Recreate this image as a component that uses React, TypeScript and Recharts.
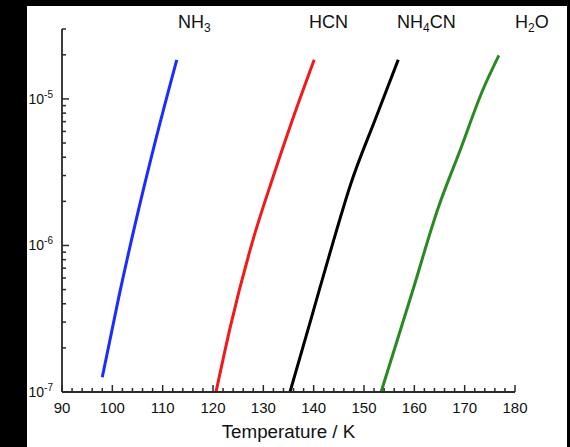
import React from 'react';
import { LineChart, Line, XAxis, YAxis } from 'recharts';

// Series data (temperature in K, vapour pressure)
const nh3T = [98.0, 101.25, 104.8, 108.65, 112.8];
const nh3P = [1.26e-7, 4.39e-7, 1.53e-6, 5.32e-6, 1.85e-5];

const hcnT = [120.6, 123.5, 127.8, 132.0, 135.8, 140.1];
const hcnP = [1.0e-7, 2.84e-7, 1.05e-6, 2.98e-6, 7.24e-6, 1.85e-5];

const nh4cnT = [135.3, 139.6, 143.4, 147.4, 152.4, 156.8];
const nh4cnP = [1.0e-7, 3.26e-7, 9.3e-7, 2.65e-6, 7.5e-6, 1.85e-5];

const h2oT = [153.4, 159.5, 164.8, 169.1, 173.6, 176.8];
const h2oP = [1.0e-7, 4.7e-7, 1.83e-6, 4.47e-6, 1.15e-5, 1.98e-5];

const xTicks = [
  90, 92, 94, 96, 98, 100, 102, 104, 106, 108, 110, 112, 114, 116, 118, 120,
  122, 124, 126, 128, 130, 132, 134, 136, 138, 140, 142, 144, 146, 148, 150,
  152, 154, 156, 158, 160, 162, 164, 166, 168, 170, 172, 174, 176, 178, 180,
];
const yTicks = [
  1e-7, 2e-7, 3e-7, 4e-7, 5e-7, 6e-7, 7e-7, 8e-7, 9e-7,
  1e-6, 2e-6, 3e-6, 4e-6, 5e-6, 6e-6, 7e-6, 8e-6, 9e-6,
  1e-5, 2e-5, 3e-5,
];

const toSeries = (t: number[], p: number[]) => t.map((v, i) => ({ t: v, p: p[i] }));

const FONT = '"Liberation Sans", Arial, sans-serif';
const AXIS = '#2a2a2a';

const XTick = (props: any) => {
  const { x, y, payload } = props;
  const v = payload.value as number;
  const major = v % 10 === 0;
  return (
    <g>
      <line x1={x} x2={x} y1={y} y2={y - (major ? 7 : 4)} stroke={AXIS} strokeWidth={1.5} />
      {major && (
        <text x={x} y={y + 21} textAnchor="middle" fontSize={15} fontFamily={FONT} fill="#111">
          {v}
        </text>
      )}
    </g>
  );
};

const YTick = (props: any) => {
  const { x, y, payload } = props;
  const v = payload.value as number;
  const exp = Math.round(Math.log10(v));
  const major = Math.abs(v - Math.pow(10, exp)) / v < 1e-6;
  return (
    <g>
      <line x1={x} x2={x + (major ? 7 : 4)} y1={y} y2={y} stroke={AXIS} strokeWidth={1.5} />
      {major && (
        <text x={x - 9} y={y + 5} textAnchor="end" fontSize={14} fontFamily={FONT} fill="#111">
          10
          <tspan dy={-6} fontSize={10}>
            {String(exp)}
          </tspan>
        </text>
      )}
    </g>
  );
};

const labelStyle = { fontSize: 18, fontFamily: FONT, fill: '#111' } as const;

export default function App() {
  return (
    <div style={{ position: 'fixed', left: 0, top: 0, width: 570, height: 447, background: '#000' }}>
      <div style={{ position: 'absolute', left: 27, top: 6, width: 540, height: 441, background: '#fff' }} />
      <div style={{ position: 'absolute', left: 0, top: 0 }}>
        <LineChart width={570} height={447} margin={{ top: 29, right: 55, bottom: 0, left: 0 }}>
          <XAxis
            type="number"
            dataKey="t"
            domain={[90, 180]}
            ticks={xTicks}
            interval={0}
            allowDataOverflow
            height={55}
            tickSize={0}
            tickMargin={0}
            tickLine={false}
            tick={<XTick />}
            axisLine={{ stroke: AXIS, strokeWidth: 1.8 }}
            label={{
              value: 'Temperature / K',
              position: 'insideBottom',
              offset: 9,
              style: { fontSize: 18.8, fontFamily: FONT, fill: '#111' },
            }}
          />
          <YAxis
            type="number"
            dataKey="p"
            scale="log"
            domain={[1e-7, 3e-5]}
            ticks={yTicks}
            interval={0}
            allowDataOverflow
            width={62}
            tickSize={0}
            tickMargin={0}
            tickLine={false}
            tick={<YTick />}
            axisLine={{ stroke: AXIS, strokeWidth: 1.8 }}
          />
          <Line data={toSeries(nh3T, nh3P)} dataKey="p" stroke="#1a2cff" strokeWidth={3} dot={false} type="monotone" isAnimationActive={false} />
          <Line data={toSeries(hcnT, hcnP)} dataKey="p" stroke="#f01a1a" strokeWidth={3} dot={false} type="monotone" isAnimationActive={false} />
          <Line data={toSeries(nh4cnT, nh4cnP)} dataKey="p" stroke="#000000" strokeWidth={3} dot={false} type="monotone" isAnimationActive={false} />
          <Line data={toSeries(h2oT, h2oP)} dataKey="p" stroke="#2a8a22" strokeWidth={3} dot={false} type="monotone" isAnimationActive={false} />
        </LineChart>
      </div>
      <svg width={570} height={447} style={{ position: 'absolute', left: 0, top: 0, pointerEvents: 'none' }}>
        <text x={178} y={28} {...labelStyle}>
          NH<tspan dy={4} fontSize={12}>3</tspan>
        </text>
        <text x={309} y={28} {...labelStyle}>
          HCN
        </text>
        <text x={397} y={28} {...labelStyle}>
          NH<tspan dy={4} fontSize={12}>4</tspan>
          <tspan dy={-4}>CN</tspan>
        </text>
        <text x={515} y={28} {...labelStyle}>
          H<tspan dy={4} fontSize={12}>2</tspan>
          <tspan dy={-4}>O</tspan>
        </text>
      </svg>
    </div>
  );
}
